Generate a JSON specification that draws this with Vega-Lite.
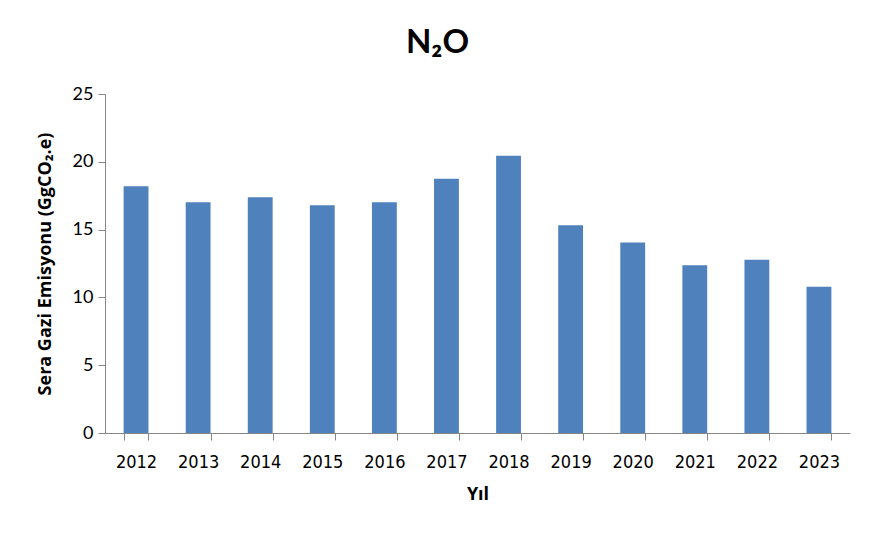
{
  "$schema": "https://vega.github.io/schema/vega-lite/v6.json",
  "width": 745,
  "height": 339,
  "autosize": "none",
  "padding": {"left": 105, "top": 94, "right": 23, "bottom": 105},
  "background": "white",
  "title": {
    "text": "N₂O",
    "fontSize": 33,
    "font": "Lato",
    "fontWeight": "bold",
    "color": "black",
    "anchor": "middle",
    "offset": 25,
    "dx": -40
  },
  "data": {
    "values": [
      {"year": "2012", "value": 18.19},
      {"year": "2013", "value": 17.01},
      {"year": "2014", "value": 17.38},
      {"year": "2015", "value": 16.79},
      {"year": "2016", "value": 17.01},
      {"year": "2017", "value": 18.75},
      {"year": "2018", "value": 20.45},
      {"year": "2019", "value": 15.32},
      {"year": "2020", "value": 14.04},
      {"year": "2021", "value": 12.37},
      {"year": "2022", "value": 12.78},
      {"year": "2023", "value": 10.79}
    ]
  },
  "mark": {"type": "bar", "color": "#4F81BD"},
  "encoding": {
    "x": {
      "field": "year",
      "type": "ordinal",
      "scale": {"paddingInner": 0.6, "paddingOuter": 0.3},
      "axis": {
        "title": "Yıl",
        "titleFont": "Open Sans",
        "titleFontSize": 18,
        "titleFontWeight": "bold",
        "titleColor": "black",
        "titlePadding": 14,
        "labelAngle": 0,
        "labelFont": "DejaVu Sans Condensed",
        "labelFontSize": 18,
        "labelColor": "black",
        "labelPadding": 13,
        "tickBand": "extent",
        "tickSize": 7,
        "tickColor": "#868686",
        "domainColor": "#868686",
        "grid": false
      }
    },
    "y": {
      "field": "value",
      "type": "quantitative",
      "scale": {"domain": [0, 25]},
      "axis": {
        "title": "Sera Gazi Emisyonu (GgCO₂.e)",
        "titleFont": "Open Sans",
        "titleFontSize": 18,
        "titleFontWeight": "bold",
        "titleColor": "black",
        "titlePadding": 18,
        "values": [0, 5, 10, 15, 20, 25],
        "labelFont": "Lato",
        "labelFontSize": 18,
        "labelColor": "black",
        "labelPadding": 5,
        "tickSize": 7,
        "tickColor": "#868686",
        "domainColor": "#868686",
        "grid": false
      }
    }
  },
  "config": {"view": {"stroke": null}}
}
